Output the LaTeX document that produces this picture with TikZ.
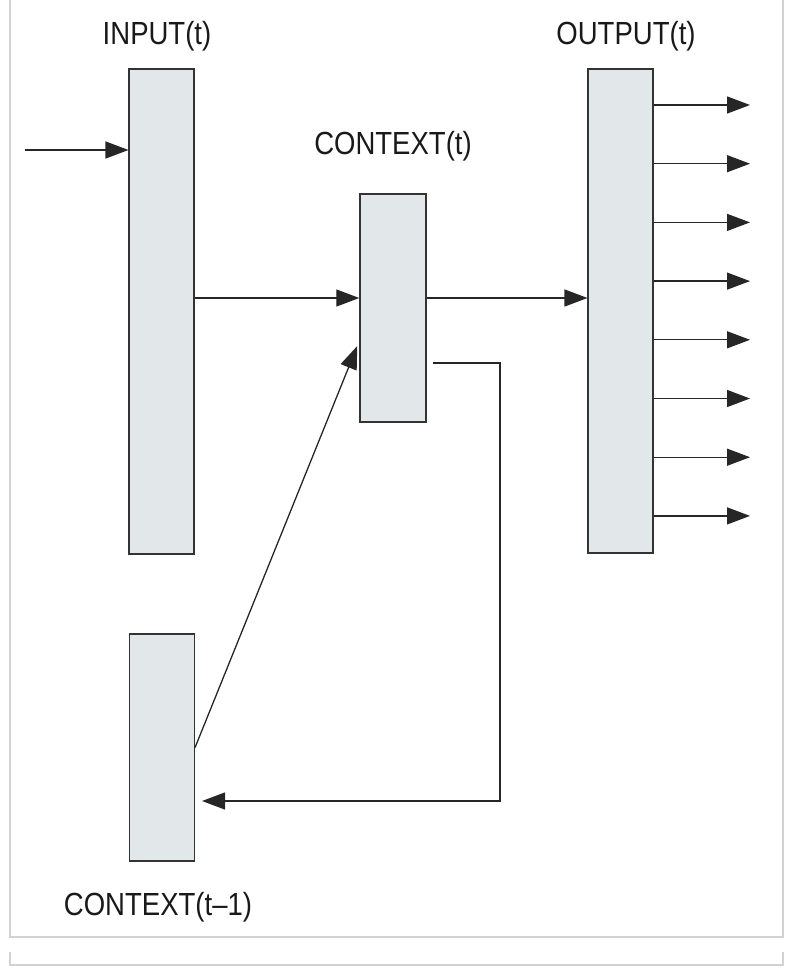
\documentclass[tikz,border=0pt]{standalone}
\usepackage{fontspec}
\setmainfont[FakeStretch=0.86]{Liberation Sans}
\usetikzlibrary{arrows.meta,positioning}
\definecolor{boxfill}{HTML}{E2E8EA}
\definecolor{boxline}{HTML}{333333}
\definecolor{framegray}{HTML}{D2D2D2}

\begin{document}
\begin{tikzpicture}[x=1pt,y=-1pt,
        layer/.style={draw=boxline,fill=boxfill,line width=1.5pt,inner sep=0pt,minimum width=65pt},
        arr/.style={-{Triangle[length=23pt,width=17pt]},line width=1.3pt,draw=black!85},
        lbl/.style={anchor=base,text=black!90,font=\fontsize{32}{38}\selectfont}]
                \useasboundingbox (0,0) rectangle (797,979);
                % frame
                \draw[framegray,line width=1.5pt] (10,0) -- (10,937) -- (783,937) -- (783,0);
                \draw[framegray,line width=1.5pt] (10,952) -- (10,965) -- (783,965) -- (783,952);
                % layers
                \node[layer,minimum height=485pt] (input) at (161.7,311.5) {};
                \node[layer,minimum height=228pt,minimum width=66pt] (ctx) at (393,308) {};
                \node[layer,minimum height=484pt] (output) at (620.7,311) {};
                \node[layer,minimum height=227pt] (prev) at (161.8,747.5) {};
                \node[lbl] (inputlbl) at (157,45) {INPUT(t)};
                \node[lbl] (ctxlbl) at (393,154) {CONTEXT(t)};
                \node[lbl] (outputlbl) at (626,45) {OUTPUT(t)};
                \node[lbl] (prevlbl) at (158,915) {CONTEXT(t--1)};
                % forward
                \coordinate (src) at (25,150);
                \coordinate (mid) at (0,298);
                \draw[arr] (src) -- (input.west |- src);
                \draw[arr] (input.east |- mid) -- (ctx.west |- mid);
                \draw[arr] (ctx.east |- mid) -- (output.west |- mid);
                \foreach \i in {0,...,7} {
                    \coordinate (out\i) at (750,105+58.7*\i);
                    \draw[arr] (output.east |- out\i) -- (out\i);
                }
                % feedback
                \coordinate (fb) at (500,801);
                \draw[arr] ([xshift=6pt,yshift=-55pt]ctx.east) -| (fb) -- ([xshift=7pt]prev.east |- fb);
                \draw[arr] (prev.east) -- ([xshift=-2pt,yshift=-38pt]ctx.west);
            \end{tikzpicture}
\end{document}
